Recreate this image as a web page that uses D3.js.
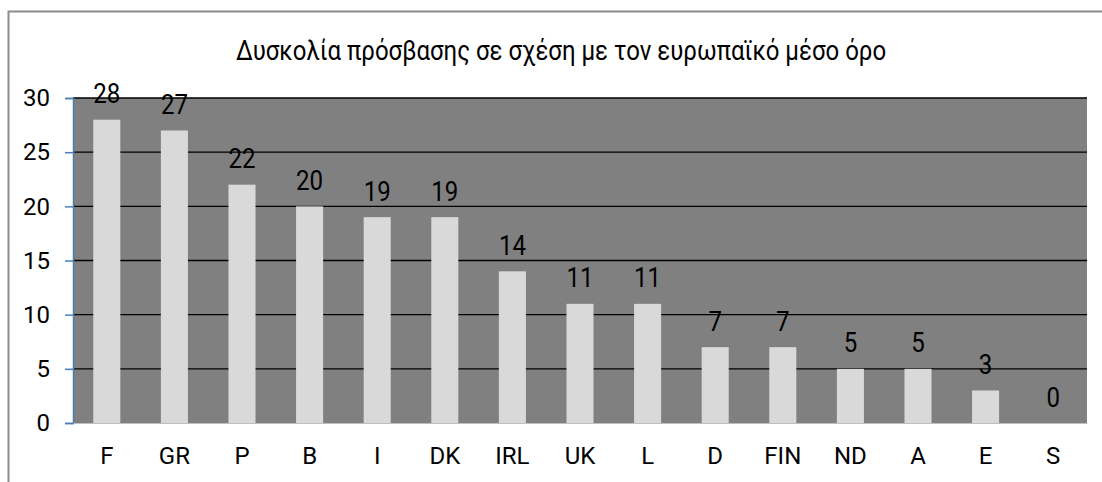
<!DOCTYPE html>
<html>
<head>
<meta charset="utf-8">
<script src="https://d3js.org/d3.v7.min.js"></script>
<style>
  body { margin: 0; background: #fff; font-family: Roboto, sans-serif; }
  svg { display: block; }
</style>
</head>
<body>
<div id="chart"></div>
<script>
// chart data
const countries = ["F", "GR", "P", "B", "I", "DK", "IRL", "UK", "L", "D", "FIN", "ND", "A", "E", "S"];
const values = [28, 27, 22, 20, 19, 19, 14, 11, 11, 7, 7, 5, 5, 3, 0];
const yTicks = [0, 5, 10, 15, 20, 25, 30];
const title = "Δυσκολία πρόσβασης σε σχέση με τον ευρωπαϊκό μέσο όρο";

const W = 1102, H = 482;
const plot = { left: 73, top: 98, right: 1087, bottom: 423 };

const svg = d3.select("#chart").append("svg")
  .attr("width", W).attr("height", H);

// outer frame (right/bottom edges fall outside the picture)
svg.append("rect")
  .attr("x", 8.5).attr("y", 11.5)
  .attr("width", 1200).attr("height", 600)
  .attr("fill", "none").attr("stroke", "#8c8c8c").attr("stroke-width", 2);

// title, a bit taller than the font draws it
svg.append("text")
  .attr("transform", "translate(561,60) scale(1,1.16)")
  .attr("text-anchor", "middle")
  .style("font-size", "24px").style("fill", "#000")
  .text(title);

const x = d3.scaleBand()
  .domain(countries)
  .range([plot.left, plot.right])
  .paddingInner(0.6).paddingOuter(0.3);

const y = d3.scaleLinear()
  .domain([0, 30])
  .range([plot.bottom, plot.top]);

// plot background
svg.append("rect")
  .attr("x", plot.left).attr("y", plot.top)
  .attr("width", plot.right - plot.left).attr("height", plot.bottom - plot.top)
  .attr("fill", "#808080");

// gridlines
svg.append("g")
  .selectAll("line")
  .data(yTicks.filter(d => d > 0))
  .join("line")
  .attr("x1", plot.left).attr("x2", plot.right)
  .attr("y1", d => y(d)).attr("y2", d => y(d))
  .attr("stroke", "#000").attr("stroke-width", 1.3);

// y axis
const yAxis = svg.append("g")
  .attr("transform", `translate(${plot.left},0)`)
  .call(d3.axisLeft(y).tickValues(yTicks).tickSize(8).tickPadding(15));
yAxis.select(".domain").attr("stroke", "#4a7ebb").attr("stroke-width", 1.5);
yAxis.selectAll(".tick line").attr("stroke", "#4a7ebb").attr("stroke-width", 1.5);
yAxis.selectAll(".tick text")
  .style("font-size", "24px").style("font-family", "Roboto, sans-serif").attr("fill", "#000");

const rows = countries.map((c, i) => ({ c, v: values[i] }));

// bars
svg.append("g")
  .selectAll("rect")
  .data(rows)
  .join("rect")
  .attr("x", d => x(d.c))
  .attr("y", d => y(d.v))
  .attr("width", x.bandwidth())
  .attr("height", d => y(0) - y(d.v))
  .attr("fill", "#d9d9d9");

// value labels
svg.append("g")
  .selectAll("text")
  .data(rows)
  .join("text")
  .attr("transform", d => `translate(${x(d.c) + x.bandwidth() / 2},${y(d.v) - 16.5}) scale(1,1.16)`)
  .attr("text-anchor", "middle")
  .style("font-size", "24px").style("fill", "#000")
  .text(d => d.v);

// x axis labels
const xAxis = svg.append("g")
  .attr("transform", `translate(0,${plot.bottom})`)
  .call(d3.axisBottom(x).tickSize(0).tickPadding(24));
xAxis.select(".domain").attr("stroke", "#bfbfbf").attr("stroke-width", 1);
xAxis.selectAll(".tick text")
  .style("font-size", "24px").style("font-family", "Roboto, sans-serif").attr("fill", "#000");
</script>
</body>
</html>
